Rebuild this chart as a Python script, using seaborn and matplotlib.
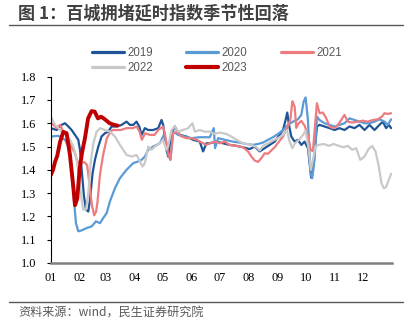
import numpy as np
import pandas as pd
import matplotlib
matplotlib.use("Agg")
import matplotlib.pyplot as plt
from matplotlib.lines import Line2D
import seaborn as sns

# ---------------- data (x = day of year, y = index) ----------------
days_2019 = [0, 6.4, 11.7, 15.3, 18.9, 22.4, 26.0, 29.5, 31.3, 33.1, 35.6, 37.7, 40.2, 42.0, 44.8, 47.3, 50.9, 54.4,
             58.0, 61.6, 65.1, 70.5, 75.8, 81.1, 84.7, 88.3, 91.8, 94.7, 97.2, 100.7, 104.3, 109.6, 115.0, 118.5,
             120.3, 123.8, 125.6, 129.2, 132.7, 138.0, 145.2, 152.3, 159.4, 163.0, 166.5, 170.1, 177.2, 184.3,
             191.5, 198.6, 205.7, 212.8, 218.1, 223.5, 228.8, 234.2, 239.5, 244.8, 248.4, 251.2, 253.0, 254.8,
             257.3, 260.9, 264.4, 268.0, 271.5, 275.1, 278.6, 281.5, 284.7, 287.5, 292.9, 298.2, 303.6, 308.9,
             314.2, 319.6, 324.9, 330.2, 335.6, 340.9, 346.3, 351.6, 355.2, 358.7, 361.6, 364.1]
vals_2019 = [1.579, 1.571, 1.593, 1.600, 1.586, 1.571, 1.550, 1.529, 1.486, 1.400, 1.286, 1.229, 1.221, 1.271, 1.386,
             1.443, 1.500, 1.543, 1.557, 1.564, 1.586, 1.586, 1.593, 1.607, 1.593, 1.593, 1.607, 1.586, 1.550,
             1.579, 1.571, 1.571, 1.579, 1.614, 1.593, 1.486, 1.457, 1.557, 1.586, 1.550, 1.543, 1.529, 1.521,
             1.479, 1.514, 1.514, 1.521, 1.514, 1.507, 1.503, 1.497, 1.489, 1.500, 1.479, 1.493, 1.507, 1.521,
             1.550, 1.571, 1.614, 1.646, 1.593, 1.543, 1.521, 1.529, 1.507, 1.521, 1.493, 1.366, 1.443, 1.586,
             1.593, 1.586, 1.579, 1.571, 1.579, 1.571, 1.586, 1.579, 1.593, 1.571, 1.593, 1.571, 1.593, 1.607,
             1.579, 1.593, 1.579]

days_2020 = [0, 8.2, 15.3, 18.9, 21.4, 24.2, 27.0, 29.5, 33.1, 38.4, 43.8, 48.4, 52.7, 56.2, 59.8, 63.3, 68.7, 74.0,
             81.1, 88.3, 93.6, 97.2, 100.7, 104.3, 109.6, 116.7, 121.0, 123.1, 125.6, 128.1, 131.0, 136.3, 143.4,
             150.5, 159.4, 170.1, 174.4, 175.8, 179.0, 186.1, 195.0, 202.1, 209.3, 216.4, 221.7, 227.0, 232.4,
             237.7, 243.1, 248.4, 253.7, 259.1, 264.4, 268.0, 270.5, 272.6, 275.1, 277.9, 279.7, 282.2, 284.7,
             287.5, 292.9, 298.2, 303.6, 308.9, 314.2, 319.6, 324.9, 330.2, 335.6, 340.9, 346.3, 351.6, 357.0,
             360.5, 364.1]
vals_2020 = [1.543, 1.546, 1.529, 1.500, 1.443, 1.300, 1.171, 1.136, 1.140, 1.150, 1.157, 1.179, 1.171, 1.193, 1.214,
             1.264, 1.321, 1.364, 1.400, 1.429, 1.436, 1.443, 1.457, 1.486, 1.500, 1.514, 1.550, 1.529, 1.464,
             1.443, 1.564, 1.550, 1.543, 1.536, 1.540, 1.540, 1.579, 1.493, 1.536, 1.529, 1.521, 1.517, 1.511,
             1.507, 1.511, 1.517, 1.529, 1.540, 1.554, 1.571, 1.593, 1.607, 1.617, 1.636, 1.693, 1.711, 1.614,
             1.386, 1.364, 1.443, 1.629, 1.614, 1.600, 1.593, 1.586, 1.593, 1.600, 1.621, 1.614, 1.607, 1.600,
             1.600, 1.607, 1.617, 1.607, 1.593, 1.617]

days_2021 = [0, 3, 6.4, 10, 13.5, 17, 20.6, 23, 26, 28, 30, 33, 36, 39, 42, 44, 46.5, 48.5, 50, 52.6, 56, 60, 63, 66,
             70, 75, 81, 88, 92, 95, 97.5, 101, 106, 111, 115, 120, 122, 125.6, 128, 131, 135, 140, 145, 150.5,
             156, 163, 166.5, 170.1, 175.4, 180.8, 186.1, 191.5, 198.6, 205.7, 211.0, 214.6, 218.1, 221.7, 225.3,
             228.8, 232.4, 235.9, 239.5, 244.1, 248.4, 252.7, 256.2, 258.5, 260.9, 262.6, 265.1, 268.0, 271.5,
             275.1, 277.9, 280.4, 282.6, 284.7, 287.5, 291.1, 294.7, 298.2, 301.8, 306.0, 310.7, 314.2, 317.8,
             322.4, 328.5, 333.8, 339.1, 344.5, 349.8, 354.4, 356.9, 360.5, 364.1]
vals_2021 = [1.600, 1.593, 1.579, 1.593, 1.564, 1.550, 1.514, 1.493, 1.471, 1.443, 1.430, 1.430, 1.433, 1.420, 1.320,
             1.250, 1.205, 1.220, 1.260, 1.377, 1.463, 1.535, 1.557, 1.571, 1.571, 1.571, 1.579, 1.579, 1.586,
             1.564, 1.529, 1.557, 1.550, 1.550, 1.571, 1.586, 1.557, 1.471, 1.443, 1.557, 1.564, 1.543, 1.536,
             1.536, 1.529, 1.514, 1.507, 1.514, 1.521, 1.514, 1.521, 1.507, 1.503, 1.497, 1.479, 1.457, 1.440,
             1.434, 1.450, 1.471, 1.469, 1.483, 1.497, 1.521, 1.543, 1.579, 1.614, 1.695, 1.671, 1.580, 1.600,
             1.610, 1.590, 1.550, 1.486, 1.480, 1.586, 1.686, 1.643, 1.646, 1.621, 1.586, 1.579, 1.586, 1.614,
             1.636, 1.607, 1.603, 1.607, 1.611, 1.607, 1.614, 1.617, 1.629, 1.643, 1.640, 1.643]

days_2022 = [0, 4.6, 8.2, 11.7, 17, 20.6, 24.2, 27.8, 30.6, 33.1, 34.9, 37.7, 40.2, 42.7, 45.6, 49.1, 52.7, 58,
             63.3, 68.7, 74, 77.6, 81.1, 86.5, 91.8, 95.4, 98.2, 100.7, 104.3, 107.8, 111.4, 116.7, 120.3, 123.8,
             125.6, 129.2, 132.7, 136.3, 141.6, 147, 151.6, 154.1, 159.4, 164.8, 170.1, 175.4, 180.8, 187.9,
             193.2, 198.6, 203.9, 209.3, 214.6, 220.0, 223.5, 227.0, 232.4, 237.7, 243.1, 248.4, 252.7, 255.5,
             258.4, 261.2, 265.5, 269.8, 272.6, 275.4, 278.3, 280.4, 283.3, 286.8, 291.8, 297.5, 302.5, 308.2,
             313.2, 317.8, 322.4, 326.7, 331.0, 335.6, 339.9, 343.8, 347.4, 350.9, 353.7, 356.2, 358.7, 361.6,
             364.1]
vals_2022 = [1.629, 1.593, 1.579, 1.564, 1.550, 1.529, 1.500, 1.443, 1.357, 1.271, 1.229, 1.229, 1.300, 1.429, 1.514,
             1.564, 1.579, 1.571, 1.564, 1.543, 1.507, 1.486, 1.464, 1.457, 1.464, 1.436, 1.414, 1.429, 1.500,
             1.486, 1.500, 1.514, 1.529, 1.486, 1.500, 1.571, 1.586, 1.564, 1.571, 1.579, 1.600, 1.564, 1.571,
             1.564, 1.564, 1.554, 1.560, 1.554, 1.543, 1.529, 1.517, 1.511, 1.507, 1.497, 1.483, 1.503, 1.514,
             1.526, 1.536, 1.550, 1.569, 1.521, 1.493, 1.514, 1.529, 1.550, 1.569, 1.500, 1.400, 1.443, 1.503,
             1.507, 1.511, 1.503, 1.511, 1.503, 1.497, 1.503, 1.486, 1.493, 1.443, 1.457, 1.489, 1.503, 1.479,
             1.414, 1.343, 1.321, 1.326, 1.357, 1.383]

days_2023 = [0, 2.5, 4.6, 7, 10, 13.5, 17, 20.6, 24, 26, 28.4, 31, 33.7, 36.6, 40, 43.7, 47, 50.5, 54, 57.6, 63,
             68.6, 71.5]
vals_2023 = [1.377, 1.400, 1.434, 1.460, 1.520, 1.563, 1.557, 1.463, 1.334, 1.248, 1.277, 1.406, 1.478, 1.535,
             1.621, 1.652, 1.650, 1.621, 1.628, 1.618, 1.600, 1.592, 1.590]

years = ["2019", "2020", "2021", "2022", "2023"]
colors = ["#1F5597", "#5B9BD5", "#EC7C80", "#C9C9C9", "#C00000"]
month_ticks = [0, 31, 59, 90, 120, 151, 181, 212, 243, 273, 304, 334]
month_labels = ["01", "02", "03", "04", "05", "06", "07", "08", "09", "10", "11", "12"]
y_ticks = [1.0, 1.1, 1.2, 1.3, 1.4, 1.5, 1.6, 1.7, 1.8]

# ---------------- figure ----------------
sns.set_style("white")
plt.rcParams["font.family"] = ["Noto Sans CJK SC", "DejaVu Sans"]

fig = plt.figure(figsize=(4.18, 3.36), dpi=100)
ax = fig.add_axes([0.1213, 0.2173, 0.8165, 0.5545])

series = [(days_2019, vals_2019), (days_2020, vals_2020), (days_2021, vals_2021),
          (days_2022, vals_2022), (days_2023, vals_2023)]
widths = [1.6, 1.6, 1.6, 1.6, 2.8]
for (dx, vy), yr, c, w in zip(series, years, colors, widths):
    df = pd.DataFrame({"day": dx, "value": vy})
    sns.lineplot(data=df, x="day", y="value", ax=ax, color=c, lw=w, label=yr,
                 estimator=None, solid_capstyle="round")

ax.set_xlim(0, 365)
ax.set_ylim(1.0, 1.8)
ax.set_xlabel("")
ax.set_ylabel("")
ax.set_xticks(month_ticks)
ax.set_xticklabels(month_labels, family="Liberation Serif", fontsize=8.8)
ax.set_yticks(y_ticks)
ax.set_yticklabels([f"{v:.1f}" for v in y_ticks], family="Liberation Serif", fontsize=8.8)
ax.tick_params(axis="x", length=0, pad=6.5, colors="black")
ax.tick_params(axis="y", direction="out", length=3, width=0.8, pad=7.5, colors="black", left=True)
for s in ["top", "right"]:
    ax.spines[s].set_visible(False)
ax.spines["left"].set_color("black")
ax.spines["left"].set_linewidth(0.8)
ax.spines["bottom"].set_color("#808080")
ax.spines["bottom"].set_linewidth(1.8)
ax.grid(False)

handles, labels = ax.get_legend_handles_labels()
ax.legend_.remove()
order = [0, 3, 1, 4, 2]
leg = fig.legend([handles[i] for i in order], [labels[i] for i in order], ncol=3, frameon=False,
                 loc="center", bbox_to_anchor=(0.519, 0.8195), handlelength=2.78, handletextpad=0.3,
                 columnspacing=2.9, labelspacing=0.3,
                 prop={"family": "Liberation Sans", "size": 8.3})
for t in leg.get_texts():
    t.set_color("#595959")
for lh, w in zip(leg.get_lines(), [2.3, 2.3, 2.3, 3.0, 2.3]):
    lh.set_linewidth(w)

fig.text(18 / 418, 1 - 13.7 / 336, "图 1：百城拥堵延时指数季节性回落", fontsize=12.3, fontweight="bold",
         color="#404040", ha="left", va="center")
fig.add_artist(Line2D([9 / 418, 403 / 418], [1 - 24.5 / 336] * 2, color="#595959", lw=1.0))
fig.add_artist(Line2D([9 / 418, 403 / 418], [1 - 302 / 336] * 2, color="#595959", lw=1.0))
fig.text(18 / 418, 1 - 313 / 336, "资料来源：wind，民生证券研究院", fontsize=8.7, color="#595959",
         ha="left", va="center")

fig.savefig("out.png", dpi=100)
